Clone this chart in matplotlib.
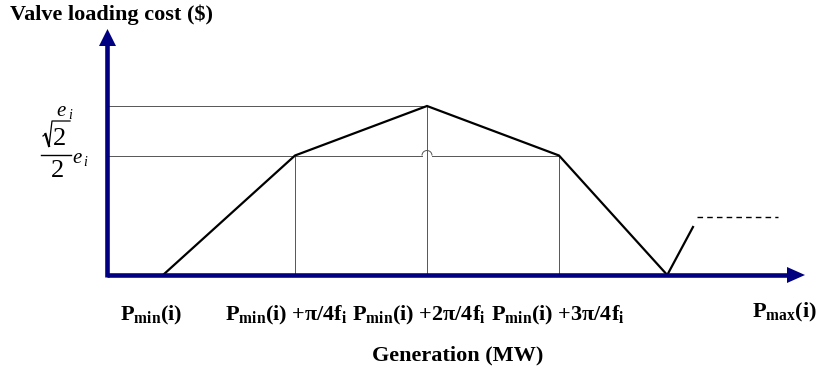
import matplotlib
matplotlib.use("Agg")
import matplotlib.pyplot as plt
from matplotlib.patches import Arc
import numpy as np

plt.rcParams['mathtext.fontset'] = 'custom'
plt.rcParams['mathtext.rm'] = 'Liberation Serif'
plt.rcParams['mathtext.it'] = 'Liberation Serif:italic'
plt.rcParams['mathtext.bf'] = 'Liberation Serif:bold'

# Data (x in units of pi/4f_i offset from Pmin, y in units of e_i)
curve_x = [0.0, 1.0, 2.0, 3.0, 3.82, 4.015]
curve_y = [0.0, 0.7071, 1.0, 0.7071, 0.0, 0.284]
dash_x = [4.045, 4.66]
dash_y = [0.343, 0.343]
tick_labels = [r'P$_{\mathbf{min}}$(i)',
               r'P$_{\mathbf{min}}$(i) +π/4f$_{\mathbf{i}}$',
               r'P$_{\mathbf{min}}$(i) +2π/4f$_{\mathbf{i}}$',
               r'P$_{\mathbf{min}}$(i) +3π/4f$_{\mathbf{i}}$']
pmax_label = r'P$_{\mathbf{max}}$(i)'
ylevels = [1.0, 0.7071]

W, H = 817, 372
x0px, sx = 163.0, 132.0
y0px, sy = 275.0, 169.0

fig = plt.figure(figsize=(W / 100, H / 100), dpi=100)
ax = fig.add_axes([0, 0, 1, 1])
ax.set_xlim((0 - x0px) / sx, (W - x0px) / sx)
ax.set_ylim((y0px - H) / sy, y0px / sy)
ax.axis('off')

def px(x):
    return (x - x0px) / sx

def py(y):
    return (y0px - y) / sy

axis_x = px(107)
navy = '#000080'
thin = dict(color='#555555', lw=0.7)

# reference lines
ax.plot([axis_x, curve_x[2]], [ylevels[0], ylevels[0]], **thin)
hop_r = 5.0 / sx
ax.plot([axis_x, curve_x[2] - hop_r], [ylevels[1], ylevels[1]], **thin)
ax.plot([curve_x[2] + hop_r, curve_x[3]], [ylevels[1], ylevels[1]], **thin)
ax.add_patch(Arc((curve_x[2], ylevels[1]), 2 * hop_r, 2 * 5.0 / sy,
                 theta1=0, theta2=180, color='#555555', lw=0.7))
for i in (1, 2, 3):
    ax.plot([curve_x[i], curve_x[i]], [0, curve_y[i]], **thin)

# curve
ax.plot(curve_x[:5], curve_y[:5], color='black', lw=1.6, solid_joinstyle='miter')
ax.plot(curve_x[4:], curve_y[4:], color='black', lw=1.6)
ax.plot(dash_x, dash_y, color='black', lw=1.0, dashes=(4, 3))

# axes with arrowheads
ax_lw = 3.3
ax.plot([axis_x, px(789)], [0, 0], color=navy, lw=ax_lw, solid_capstyle='butt')
ax.plot([axis_x, axis_x], [py(277), py(44)], color=navy, lw=ax_lw, solid_capstyle='butt')
ax.fill([px(787), px(805), px(787)], [py(267), py(275), py(283)], color=navy, lw=0)
ax.fill([px(99), px(107.5), px(116)], [py(46), py(29), py(46)], color=navy, lw=0)

# texts
ax.text(px(10), py(15), 'Valve loading cost ($)', family='Liberation Serif',
        fontweight='bold', fontsize=16, ha='left', va='center')
ax.text(px(458), py(355), 'Generation (MW)', family='Liberation Serif',
        fontweight='bold', fontsize=16, ha='center', va='center')
tick_px = [151, 286, 419, 558]
for t, lab in zip(tick_px, tick_labels):
    ax.text(px(t), py(320), lab, family='Liberation Serif', fontweight='bold',
            fontsize=16, ha='center', va='baseline')
ax.text(px(784), py(317), pmax_label, family='Liberation Serif', fontweight='bold',
        fontsize=16, ha='center', va='baseline')

# y level labels
ax.text(px(56), py(116), r'$e$', fontsize=15, ha='left', va='baseline')
ax.text(px(68), py(119), r'$i$', fontsize=10, ha='left', va='baseline')
# sqrt(2)/2 e_i built from pieces
ax.plot([px(43), px(45.5)], [py(136), py(134)], color='black', lw=0.9)
ax.plot([px(45.5), px(49)], [py(134), py(146)], color='black', lw=1.6)
ax.plot([px(49), px(52), px(70)], [py(146), py(121), py(121)], color='black', lw=0.9)
ax.text(px(53), py(145), '2', family='Liberation Serif', fontsize=19,
        ha='left', va='baseline')
ax.plot([px(41), px(71)], [py(154.5), py(154.5)], color='black', lw=1.0)
ax.text(px(58), py(177), '2', family='Liberation Serif', fontsize=19,
        ha='center', va='baseline')
ax.text(px(71.5), py(163), r'$e$', fontsize=15, ha='left', va='baseline')
ax.text(px(83), py(166), r'$i$', fontsize=10, ha='left', va='baseline')

fig.savefig('out.png', dpi=100)
